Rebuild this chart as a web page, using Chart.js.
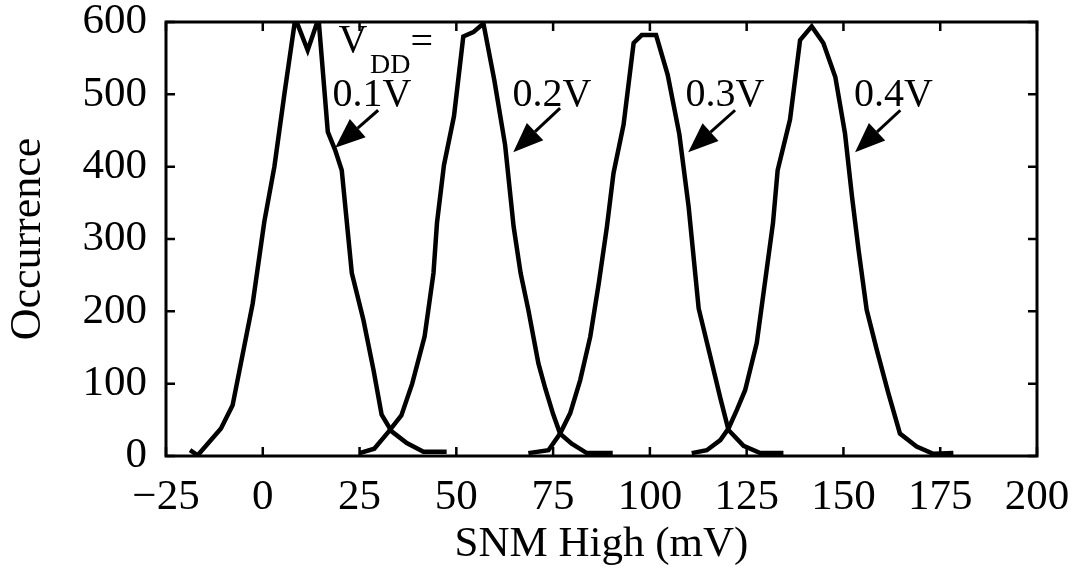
<!DOCTYPE html>
<html>
<head>
<meta charset="utf-8">
<title>SNM High distribution</title>
<script src="https://cdn.jsdelivr.net/npm/chart.js@4.4.1/dist/chart.umd.min.js"></script>
<style>
  body { margin: 0; background: #fff; }
  #wrap { width: 1073px; height: 577px; }
</style>
</head>
<body>
<div id="wrap"><canvas id="snmChart"></canvas></div>
<script>
// supply voltages, one histogram curve each
const vddLevels = ["0.1V", "0.2V", "0.3V", "0.4V"];

// SNM High bin centres (mV) and occurrence counts per curve
const snm01 = [-18.8, -16.8, -10.8, -7.8, -2.6, 0.4, 3.0, 5.6, 8.4, 11.6, 14.4, 16.8, 18.7, 20.4, 23.0, 26.0, 28.6, 30.7, 33.3, 37.2, 41.5, 47.5];
const occ01 = [8, 1, 38, 70, 211, 324, 400, 501, 605, 561, 605, 448, 423, 395, 253, 188, 119, 57, 34, 18, 6, 6];

const snm02 = [25.0, 28.8, 32.4, 35.8, 38.6, 41.8, 44.1, 45.0, 46.8, 49.4, 51.8, 54.4, 57.0, 59.8, 62.6, 64.8, 66.6, 68.6, 71.2, 73.0, 75.0, 76.8, 79.8, 83.7, 90.4];
const occ02 = [4, 10, 33, 56, 100, 165, 253, 322, 402, 470, 580, 586, 598, 520, 430, 317, 253, 202, 128, 93, 58, 31, 17, 4, 4];

const snm03 = [68.6, 73.8, 76.8, 79.4, 82.0, 84.6, 86.8, 88.9, 90.6, 93.2, 95.8, 97.9, 101.6, 104.6, 107.6, 110.0, 112.6, 115.6, 118.2, 120.3, 124.2, 128.5, 134.5];
const occ03 = [4, 8, 31, 59, 105, 165, 239, 317, 391, 458, 571, 582, 582, 527, 445, 345, 204, 138, 80, 36, 14, 4, 4];

const snm04 = [110.8, 114.7, 118.2, 120.3, 122.5, 124.6, 127.6, 129.8, 131.8, 133.0, 136.2, 138.8, 141.8, 144.8, 147.9, 150.4, 152.2, 153.9, 156.0, 158.6, 161.6, 164.6, 168.9, 173.2, 178.4];
const occ04 = [4, 8, 22, 38, 64, 91, 156, 243, 322, 395, 465, 575, 594, 571, 524, 446, 359, 285, 202, 147, 87, 31, 13, 3, 4];

const snmSeries = [snm01, snm02, snm03, snm04];
const occSeries = [occ01, occ02, occ03, occ04];

// axis ticks
const xTicks = [-25, 0, 25, 50, 75, 100, 125, 150, 175, 200];
const yTicks = [0, 100, 200, 300, 400, 500, 600];

// label text and arrow placement in data units: [labelX, labelY, fromX, fromY, tipX, tipY]
const arrowSpots = [
  [28.2, 499, 29.8, 478, 18.7, 426],
  [74.7, 499, 76.8, 481, 64.7, 420],
  [119.4, 499, 122.0, 478, 109.9, 420],
  [162.9, 499, 164.7, 478, 153.0, 420]
];

const SERIF = '"Liberation Serif", "Times New Roman", serif';

const datasets = vddLevels.map((v, i) => ({
  label: v,
  data: snmSeries[i].map((x, j) => ({ x: x, y: occSeries[i][j] })),
  showLine: true,
  borderColor: "#000",
  borderWidth: 4.5,
  pointRadius: 0,
  tension: 0,
  clip: 0
}));

// frame, inward tick marks and the V_DD labels with arrows
const framePlugin = {
  id: "frame",
  afterDatasetsDraw(chart) {
    const { ctx, chartArea: a, scales } = chart;
    const sx = scales.x, sy = scales.y;
    const tl = 9;
    ctx.save();
    ctx.strokeStyle = "#000";
    ctx.lineWidth = 2.5;
    ctx.beginPath();
    xTicks.forEach(t => {
      const px = sx.getPixelForValue(t);
      ctx.moveTo(px, a.bottom); ctx.lineTo(px, a.bottom - tl);
      ctx.moveTo(px, a.top); ctx.lineTo(px, a.top + tl);
    });
    yTicks.forEach(t => {
      const py = sy.getPixelForValue(t);
      ctx.moveTo(a.left, py); ctx.lineTo(a.left + tl, py);
      ctx.moveTo(a.right, py); ctx.lineTo(a.right - tl, py);
    });
    ctx.stroke();
    ctx.lineWidth = 3;
    ctx.strokeRect(a.left, a.top, a.right - a.left, a.bottom - a.top);

    // V_DD =
    ctx.fillStyle = "#000";
    ctx.textAlign = "center";
    ctx.textBaseline = "middle";
    ctx.font = "40px " + SERIF;
    ctx.fillText("V", sx.getPixelForValue(23.3), sy.getPixelForValue(573));
    ctx.font = "28px " + SERIF;
    ctx.fillText("DD", sx.getPixelForValue(32.9), sy.getPixelForValue(540));
    ctx.font = "40px " + SERIF;
    ctx.fillText("=", sx.getPixelForValue(41.1), sy.getPixelForValue(570));

    arrowSpots.forEach((s, i) => {
      ctx.font = "40px " + SERIF;
      ctx.fillText(vddLevels[i], sx.getPixelForValue(s[0]), sy.getPixelForValue(s[1]));
      const x0 = sx.getPixelForValue(s[2]), y0 = sy.getPixelForValue(s[3]);
      const x1 = sx.getPixelForValue(s[4]), y1 = sy.getPixelForValue(s[5]);
      const ang = Math.atan2(y1 - y0, x1 - x0);
      const headLen = 30, headW = 12;
      const bx = x1 - headLen * Math.cos(ang), by = y1 - headLen * Math.sin(ang);
      ctx.lineWidth = 3;
      ctx.beginPath();
      ctx.moveTo(x0, y0); ctx.lineTo(bx, by);
      ctx.stroke();
      ctx.beginPath();
      ctx.moveTo(x1, y1);
      ctx.lineTo(bx + headW * Math.sin(ang), by - headW * Math.cos(ang));
      ctx.lineTo(bx - headW * Math.sin(ang), by + headW * Math.cos(ang));
      ctx.closePath();
      ctx.fill();
    });
    ctx.restore();
  }
};

new Chart(document.getElementById("snmChart"), {
  type: "scatter",
  data: { datasets: datasets },
  options: {
    responsive: true,
    maintainAspectRatio: false,
    animation: false,
    layout: { padding: { top: 22, right: 36, left: 0, bottom: 0 } },
    plugins: { legend: { display: false }, tooltip: { enabled: false } },
    scales: {
      x: {
        type: "linear",
        min: -25,
        max: 200,
        afterBuildTicks: s => { s.ticks = xTicks.map(v => ({ value: v })); },
        afterFit: s => { s.height = 121; s.paddingLeft = 0; s.paddingRight = 0; },
        grid: { display: false, drawTicks: false },
        border: { display: false },
        ticks: {
          color: "#000",
          padding: 16,
          maxRotation: 0,
          autoSkip: false,
          font: { family: SERIF, size: 43 },
          callback: v => String(v).replace("-", "\u2212")
        },
        title: {
          display: true,
          text: "SNM High (mV)",
          color: "#000",
          font: { family: SERIF, size: 43 },
          padding: { top: 0, bottom: 6 }
        }
      },
      y: {
        type: "linear",
        min: 0,
        max: 600,
        afterBuildTicks: s => { s.ticks = yTicks.map(v => ({ value: v })); },
        afterFit: s => { s.width = 166; s.paddingTop = 0; s.paddingBottom = 0; },
        grid: { display: false, drawTicks: false },
        border: { display: false },
        ticks: {
          color: "#000",
          padding: 19,
          font: { family: SERIF, size: 43 }
        },
        title: {
          display: true,
          text: "Occurrence",
          color: "#000",
          font: { family: SERIF, size: 44 },
          padding: { top: 2, bottom: 0 }
        }
      }
    }
  },
  plugins: [framePlugin]
});
</script>
</body>
</html>
